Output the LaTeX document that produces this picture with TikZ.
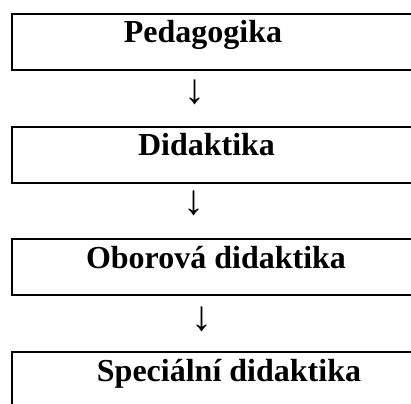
\documentclass[tikz,border=0pt]{standalone}
\usepackage{fontspec}
\setmainfont{Liberation Serif}
\begin{document}
\begin{tikzpicture}[x=1pt,y=-1pt,
  box/.style={draw=black,line width=2pt,rectangle,inner sep=0pt,minimum width=429pt,minimum height=56pt,anchor=north west},
  label/.style={font=\fontsize{32}{38}\selectfont\bfseries,inner sep=0pt,anchor=base},
  darrow/.style={font=\fontsize{42}{48}\selectfont,inner sep=0pt,anchor=center}]
\useasboundingbox (0,0) rectangle (411,403);
\clip (0,0) rectangle (411,403);
\node[box] (b1) at (11,12.8) {};
\node[box] (b2) at (11,125.6) {};
\node[box] (b3) at (11,238.4) {};
\node[box] (b4) at (11,351.2) {};
\node[label] (t1) at (203,42.8) {Pedagogika};
\node[label] (t2) at (206.5,155.6) {Didaktika};
\node[label] (t3) at (216,268.4) {Oborová didaktika};
\node[label] (t4) at (229,381.2) {Speciální didaktika};
\node[darrow] (a1) at (194.7,92) {↓};
\node[darrow] (a2) at (194.3,203.5) {↓};
\node[darrow] (a3) at (202.3,319) {↓};
\end{tikzpicture}
\end{document}
